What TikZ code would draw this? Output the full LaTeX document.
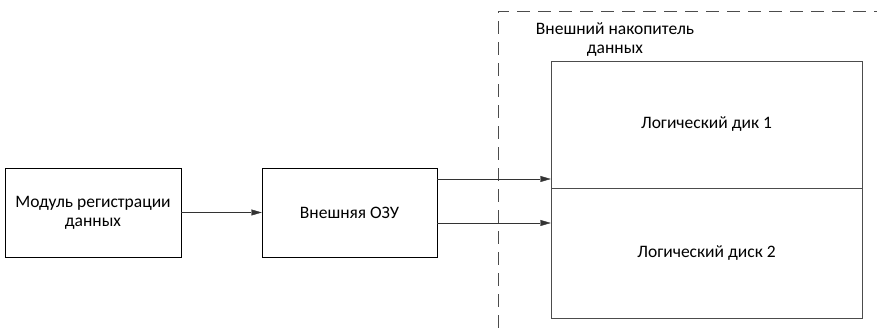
\documentclass[tikz,border=0pt]{standalone}
\usepackage{fontspec}
\setmainfont{Carlito}
\usetikzlibrary{arrows.meta}

\begin{document}
\begin{tikzpicture}[x=1pt, y=1pt,
    blockbox/.style={draw, rectangle, inner sep=0pt, align=center, font=\fontsize{17.5}{19}\selectfont},
    diskbox/.style={draw=black!70, rectangle, inner sep=0pt, align=center, font=\fontsize{17.5}{19}\selectfont},
    link/.style={draw=black!80, -{Triangle[length=10.5pt, width=6pt]}},
    bounddash/.style={draw=black!70, dash pattern=on 13pt off 8pt}]
    \useasboundingbox (0,0) rectangle (877,328);
    % storage area
    \draw[bounddash] (498,0) -- (498,317) -- (877,317);
    \node[font=\fontsize{17.5}{19}\selectfont, align=center] (storage) at (615,288.5) {Внешний накопитель\\данных};
    % blocks
    \node[blockbox, minimum width=176pt, minimum height=89pt] (reg) at (93,115.5) {Модуль регистрации\\данных};
    \node[blockbox, minimum width=175pt, minimum height=89pt] (ozu) at (349.5,115.5) {Внешняя ОЗУ};
    \node[diskbox, minimum width=311pt, minimum height=127pt] (disk1) at (706.5,203.5) {Логический дик 1};
    \node[diskbox, minimum width=311pt, minimum height=130pt] (disk2) at (706.5,75) {Логический диск 2};
    % connectors
    \draw[link] (reg.east) -- (ozu.west);
    \draw[link] ([yshift=33.5pt]ozu.east) -- ([yshift=33.5pt]ozu.east -| disk1.west);
    \draw[link] ([yshift=-10.5pt]ozu.east) -- ([yshift=-10.5pt]ozu.east -| disk2.west);
\end{tikzpicture}
\end{document}
